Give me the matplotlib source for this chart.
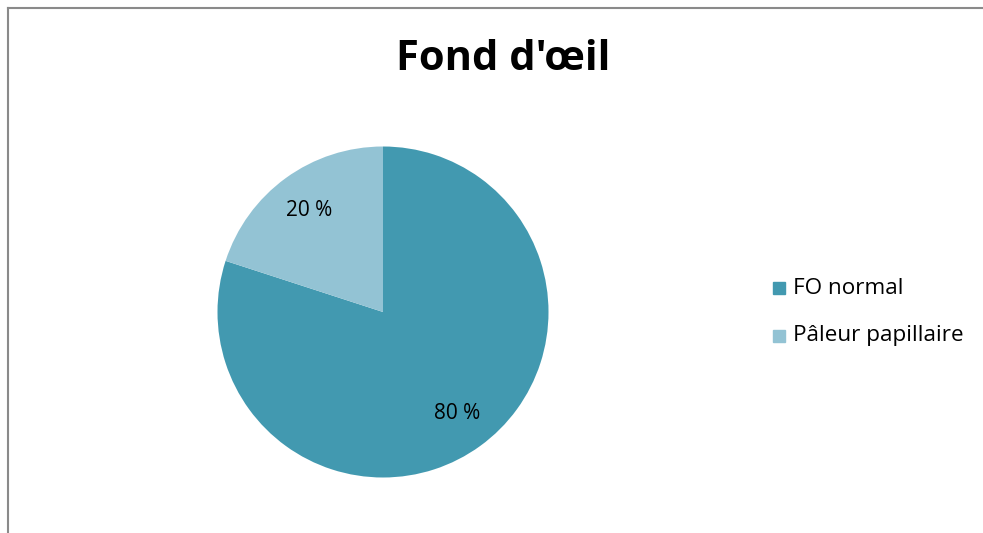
import matplotlib
matplotlib.use("Agg")
import matplotlib.pyplot as plt
from matplotlib.lines import Line2D
from matplotlib.patches import Rectangle

title = "Fond d'œil"
categories = ["FO normal", "Pâleur papillaire"]
values = [80, 20]
colors = ["#4299B0", "#93C3D4"]

plt.rcParams['font.family'] = ['Open Sans', 'DejaVu Sans']

W, H = 983, 533
fig = plt.figure(figsize=(W / 100, H / 100), dpi=100)

# frame lines (top and left)
fig.add_artist(Line2D([8 / W, 1.0], [1 - 8 / H, 1 - 8 / H], transform=fig.transFigure,
                      color="#8a8a8a", lw=1.5))
fig.add_artist(Line2D([8 / W, 8 / W], [0.0, 1 - 8 / H], transform=fig.transFigure,
                      color="#8a8a8a", lw=1.5))

cx, cy, r = 383, H - 312, 165.5
ax = fig.add_axes([(cx - r) / W, (cy - r) / H, 2 * r / W, 2 * r / H])
wedges, texts, autotexts = ax.pie(values, colors=colors, startangle=90, counterclock=False,
                                  autopct=lambda p: f"{p:.0f} %", pctdistance=0.76,
                                  textprops=dict(fontsize=15, color="black"),
                                  wedgeprops=dict(linewidth=0))
ax.set_xlim(-1, 1)
ax.set_ylim(-1, 1)
ax.set_aspect("equal")
ax.axis("off")

fig.text(503 / W, 1 - 60 / H, title, ha="center", va="center", fontsize=30, fontweight="bold")

# legend
ys = [288, 336]
for cat, col, y in zip(categories, colors, ys):
    fig.add_artist(Rectangle(((773) / W, 1 - (y + 6) / H), 12 / W, 12 / H,
                             transform=fig.transFigure, color=col))
    fig.text(793 / W, 1 - y / H, cat, ha="left", va="center", fontsize=16.2)

fig.savefig("out.png", dpi=100)
